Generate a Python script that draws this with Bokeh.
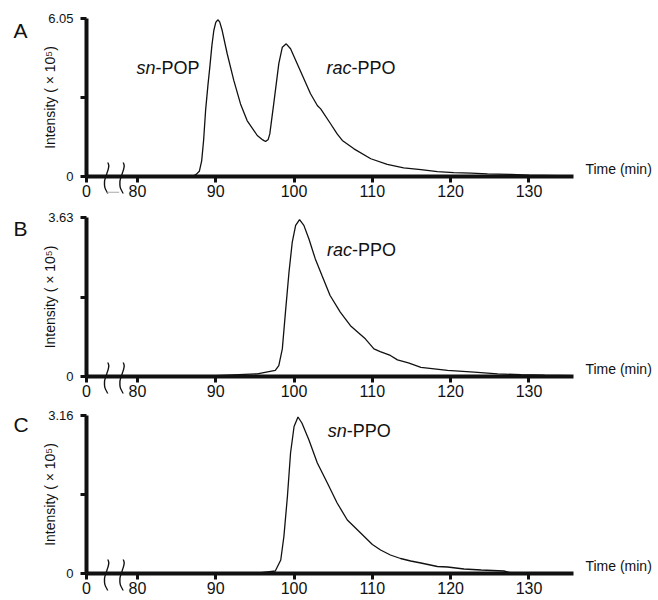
import numpy as np
from bokeh.plotting import figure
from bokeh.layouts import column
from bokeh.models import FixedTicker, Label, PolyAnnotation, Range1d
from bokeh.embed import file_html
from bokeh.resources import INLINE

FONT = "Liberation Sans"

# ---------------- data ----------------
time_a = [80, 85, 87.0, 87.5, 87.9, 88.2, 88.45, 88.7, 89.0, 89.24, 89.5, 89.75, 90.0,
          90.26, 90.5, 90.82, 91.46, 92.3, 93.16, 94.0, 95.3, 96.0, 96.36, 96.7, 96.9,
          97.4, 98.05, 98.5, 99.0, 99.55, 100.4, 101.25, 102.1, 102.97, 103.4, 104.66,
          105.5, 106.16, 107.65, 109.8, 111.9, 114.0, 116.2, 118.3, 120.4, 122.6, 124.7,
          127.7, 130.0, 135.6]
intensity_a = [0, 0, 0.0, 0.08, 0.2, 0.6, 1.4, 2.53, 3.5, 4.19, 5.0, 5.59, 5.9,
               6.0, 5.92, 5.59, 4.70, 3.68, 2.78, 2.14, 1.57, 1.40, 1.34, 1.42, 1.63,
               2.78, 4.32, 4.95, 5.08, 4.89, 4.32, 3.74, 3.17, 2.72, 2.59, 2.02,
               1.63, 1.38, 1.06, 0.68, 0.46, 0.33, 0.26, 0.19, 0.15, 0.13, 0.10,
               0.08, 0.05, 0.02]

time_b = [80, 90, 95.3, 97.6, 98.05, 98.5, 98.9, 99.35, 99.77, 100.2, 100.7, 101.25,
          101.9, 102.7, 103.55, 104.6, 105.9, 107.2, 108.4, 109.1, 110.2, 111.0, 112.3,
          113.2, 114.6, 116.2, 119.6, 123.0, 126.0, 129.0, 132.0, 135.6]
intensity_b = [0.0, 0.02, 0.06, 0.14, 0.25, 0.63, 1.47, 2.38, 3.07, 3.45, 3.58, 3.45,
               3.14, 2.69, 2.31, 1.85, 1.47, 1.16, 0.97, 0.86, 0.63, 0.57, 0.48,
               0.38, 0.31, 0.21, 0.14, 0.10, 0.06, 0.04, 0.03, 0.02]

time_c = [80, 95, 97.6, 98.3, 98.7, 99.15, 99.55, 100.0, 100.5, 101.0, 101.9, 102.97,
          104.25, 105.5, 106.8, 108.5, 110.0, 111.05, 112.3, 113.6, 114.9, 116.2, 118.3,
          119.6, 121.7, 123.9, 126.8, 128.0, 135.6]
intensity_c = [0, 0, 0.05, 0.27, 0.74, 1.54, 2.41, 2.94, 3.13, 3.01, 2.67, 2.21,
               1.81, 1.41, 1.07, 0.81, 0.58, 0.47, 0.37, 0.30, 0.25, 0.21, 0.14,
               0.13, 0.09, 0.07, 0.05, 0.0, 0.0]

panel_letters = ["A", "B", "C"]
y_max_values = [6.05, 3.63, 3.16]
y_top_labels = ["6.05", "3.63", "3.16"]
x_tick_values = [73.49, 80, 90, 100, 110, 120, 130]
x_tick_labels = ["0", "80", "90", "100", "110", "120", "130"]
peak_labels = [
    [("sn", "-POP", 79.87, 3.87), ("rac", "-PPO", 104.15, 3.87)],
    [("rac", "-PPO", 104.2, 2.72)],
    [("sn", "-PPO", 104.3, 2.71)],
]

# ---------------- layout ----------------
W = 656
PX_PER_MIN = 7.83
AXIS_PX_X = 86
X0 = x_tick_values[0]
X_END = 135.68
X_START = X0 - AXIS_PX_X / PX_PER_MIN
X_STOP = X_START + W / PX_PER_MIN
PANEL_H = [200, 200, 200]
ZERO_PX = [176, 176, 173]
SPAN_PX = [158, 159, 158]
LETTER_DROP = [19, 18, 16]
TEXT_LIFT = 7          # compensates the svg baseline shift
BREAK_PX = [105.3, 120.7]
ITALIC_W = {"sn": 19, "rac": 25}
INK = "#111111"

# squiggle outline (px offsets: down from top, x offset)
SQ_Y = [0, 2, 6, 12, 18, 24, 28, 31]
SQ_X = [1.0, 2.5, 2.0, 0.0, -2.0, -2.0, -0.5, 1.5]


def px_to_t(px):
    return X0 + (px - AXIS_PX_X) / PX_PER_MIN


def squiggle(xc_px, ypp):
    yy = np.linspace(0, 31, 40)
    xx = np.interp(yy, SQ_Y, SQ_X)
    xx = np.convolve(np.pad(xx, 2, mode="edge"), np.ones(5) / 5, mode="valid")
    up = 14 - yy
    xs_f = [px_to_t(xc_px + d) for d in xx]
    xs_b = [px_to_t(xc_px + d + 1.4) for d in xx]
    ys = list(up * ypp)
    return PolyAnnotation(xs=xs_f + xs_b[::-1], ys=ys + ys[::-1],
                          fill_color=INK, fill_alpha=1.0, line_color=None)


def make_panel(i, t, v):
    ymax = y_max_values[i]
    ypp = ymax / SPAN_PX[i]
    H = PANEL_H[i]
    y_end = ZERO_PX[i] * ypp
    y_start = -(H - ZERO_PX[i]) * ypp
    p = figure(width=W, height=H,
               x_range=Range1d(X_START, X_STOP), y_range=Range1d(y_start, y_end),
               output_backend="svg", toolbar_location=None,
               min_border=0, min_border_left=0, min_border_right=0,
               min_border_top=0, min_border_bottom=0)
    p.outline_line_color = None
    p.grid.visible = False
    p.background_fill_color = "white"
    p.border_fill_color = "white"

    p.line(t, v, line_color=INK, line_width=1.3)

    xa = p.xaxis[0]
    xa.fixed_location = 0
    xa.bounds = (X0, X_END)
    xa.ticker = FixedTicker(ticks=x_tick_values)
    xa.major_label_overrides = {tv: tl for tv, tl in zip(x_tick_values, x_tick_labels)}
    xa.axis_line_width = 4
    xa.axis_line_color = INK
    xa.major_tick_line_width = 3
    xa.major_tick_line_color = INK
    xa.major_tick_out = 6
    xa.major_tick_in = 0
    xa.minor_tick_line_color = None
    xa.major_label_standoff = 2
    xa.major_label_text_font = FONT
    xa.major_label_text_font_size = "16px"
    xa.major_label_text_color = INK

    ya = p.yaxis[0]
    ya.fixed_location = X0
    ya.bounds = (0, ymax)
    ya.ticker = FixedTicker(ticks=[0, ymax / 2, ymax])
    ya.major_label_overrides = {0: "0", ymax / 2: "", ymax: y_top_labels[i]}
    ya.axis_line_width = 4
    ya.axis_line_color = INK
    ya.major_tick_line_width = 3
    ya.major_tick_line_color = INK
    ya.major_tick_out = 6
    ya.major_tick_in = 0
    ya.minor_tick_line_color = None
    ya.major_label_standoff = 7
    ya.major_label_text_font = FONT
    ya.major_label_text_font_size = "13px"
    ya.major_label_text_color = INK
    ya.axis_label = "Intensity ( \u00d7 10\u2075)"
    ya.axis_label_text_font = FONT
    ya.axis_label_text_font_size = "14px"
    ya.axis_label_text_font_style = "normal"
    ya.axis_label_text_color = INK
    ya.axis_label_standoff = -13

    for bx in BREAK_PX:
        p.add_layout(squiggle(bx, ypp))
    if i == 0:
        gy0 = -15.2 * ypp
        gy1 = -16.3 * ypp
        gx0 = px_to_t(BREAK_PX[0] + 1.0)
        gx1 = px_to_t(BREAK_PX[1] - 2.0)
        p.add_layout(PolyAnnotation(xs=[gx0, gx1, gx1, gx0], ys=[gy0, gy0, gy1, gy1],
                                    fill_color="#a8a8a8", fill_alpha=1.0,
                                    line_color=None))

    p.add_layout(Label(x=X0, y=ymax, x_offset=-73,
                       y_offset=-LETTER_DROP[i] + TEXT_LIFT,
                       text=panel_letters[i], text_font=FONT,
                       text_font_size="21px", text_color=INK,
                       text_baseline="alphabetic", text_align="left"))
    p.add_layout(Label(x=X_END, y=0, x_offset=12, y_offset=1 + TEXT_LIFT,
                       text="Time (min)",
                       text_font=FONT, text_font_size="14px", text_color=INK,
                       text_baseline="alphabetic", text_align="left"))

    for ital, rest, lx, ly in peak_labels[i]:
        p.add_layout(Label(x=lx, y=ly, y_offset=TEXT_LIFT, text=ital, text_font=FONT,
                           text_font_style="italic", text_font_size="18px",
                           text_color=INK, text_baseline="alphabetic"))
        p.add_layout(Label(x=lx, y=ly, x_offset=ITALIC_W[ital], y_offset=TEXT_LIFT,
                           text=rest, text_font=FONT, text_font_size="18px",
                           text_color=INK, text_baseline="alphabetic"))
    return p


panels = [make_panel(0, time_a, intensity_a),
          make_panel(1, time_b, intensity_b),
          make_panel(2, time_c, intensity_c)]

layout = column(*panels, spacing=0)
open("out.html", "w").write(file_html(layout, INLINE))
